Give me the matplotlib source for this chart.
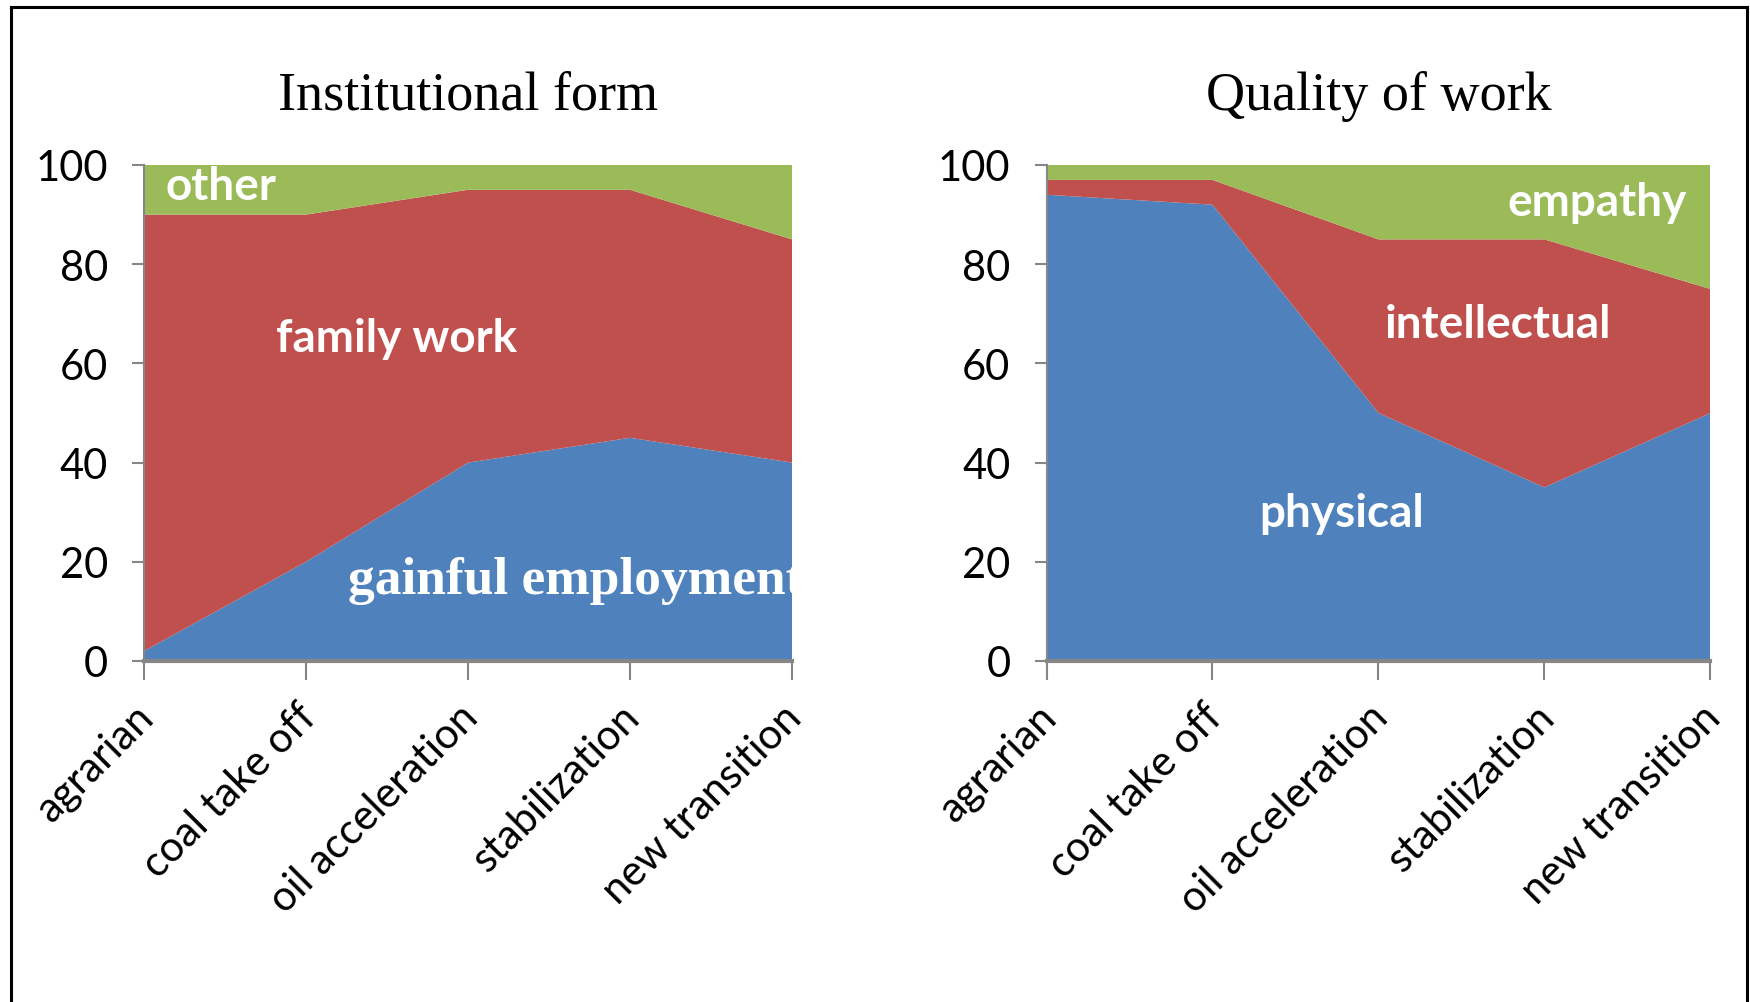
import matplotlib
matplotlib.use("Agg")
import matplotlib.pyplot as plt
from matplotlib.lines import Line2D
from matplotlib.transforms import ScaledTranslation

categories = ["agrarian", "coal take off", "oil acceleration", "stabilization", "new transition"]

# Institutional form (stacked, %)
gainful = [2, 20, 40, 45, 40]
family = [88, 70, 55, 50, 45]
other = [10, 10, 5, 5, 15]

# Quality of work (stacked, %)
physical = [94, 92, 50, 35, 50]
intellectual = [3, 5, 35, 50, 25]
empathy = [3, 3, 15, 15, 25]

BLUE = "#4F81BD"
RED = "#C0504D"
GREEN = "#9BBB59"
AXIS_GREY = "#868686"
SANS = ["Lato", "DejaVu Sans"]
SERIF = ["Liberation Serif", "DejaVu Serif"]


def style_axes(fig, ax, title):
    ax.set_xlim(0, len(categories) - 1)
    ax.set_ylim(0, 100)
    ax.set_yticks(range(0, 101, 20))
    ax.set_xticks(range(len(categories)))
    for s in ["top", "right"]:
        ax.spines[s].set_visible(False)
    ax.spines["left"].set_color(AXIS_GREY)
    ax.spines["left"].set_linewidth(1.5)
    ax.spines["bottom"].set_color(AXIS_GREY)
    ax.spines["bottom"].set_linewidth(3)
    ax.tick_params(axis="y", colors=AXIS_GREY, length=9, width=1.5,
                   labelcolor="black", labelsize=30, pad=17)
    ax.tick_params(axis="x", colors=AXIS_GREY, length=14, width=1.5,
                   labelcolor="black", labelsize=30, pad=4)
    for lab in ax.get_yticklabels():
        lab.set_fontfamily(SANS)
    ax.set_xticklabels(categories, rotation=45, ha="right", va="top",
                       rotation_mode="anchor", fontfamily=SANS)
    shift = ScaledTranslation(-0.10, -0.11, fig.dpi_scale_trans)
    for lab in ax.get_xticklabels():
        lab.set_transform(lab.get_transform() + shift)
    ax.text(0.5, 1.14, title, transform=ax.transAxes, ha="center", va="center",
            fontsize=39, fontfamily=SERIF)


fig = plt.figure(figsize=(17.5, 10.03), dpi=100)
ax1 = fig.add_axes([0.0823, 0.34, 0.3703, 0.4945])
ax2 = fig.add_axes([0.598, 0.34, 0.3794, 0.4945])

x = list(range(len(categories)))
ax1.stackplot(x, gainful, family, other, colors=[BLUE, RED, GREEN], linewidth=0)
ax2.stackplot(x, physical, intellectual, empathy, colors=[BLUE, RED, GREEN], linewidth=0)

style_axes(fig, ax1, "Institutional form")
style_axes(fig, ax2, "Quality of work")

lbl = dict(color="white", fontweight="bold", fontsize=33, fontfamily=SANS, va="center")
ax1.text(0.475, 95.7, "other", ha="center", **lbl)
ax1.text(1.556, 65.1, "family work", ha="center", **lbl)
ax1.text(1.26, 16.4, "gainful employment", ha="left", va="center", color="white",
         fontweight="bold", fontsize=38.5, fontfamily=SERIF, clip_on=True)
ax2.text(1.775, 29.8, "physical", ha="center", **lbl)
ax2.text(2.72, 67.9, "intellectual", ha="center", **lbl)
ax2.text(3.32, 92.5, "empathy", ha="center", **lbl)

# outer frame (only top/left/right visible in the original crop)
x0, x1 = 11 / 1750, 1747 / 1750
y0 = 1 - 8 / 1003
for xs, ys in [([x0, x0], [0, y0]), ([x0, x1], [y0, y0]), ([x1, x1], [y0, 0])]:
    fig.add_artist(Line2D(xs, ys, color="black", linewidth=2.2,
                          transform=fig.transFigure))

fig.savefig("out.png", dpi=100)
